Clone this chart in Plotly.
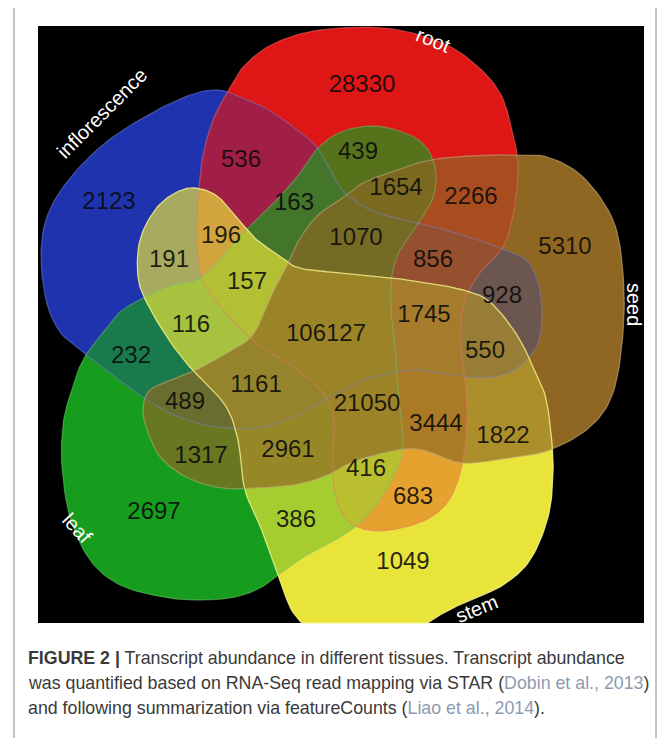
import numpy as np
import plotly.graph_objects as go

# ---------------- data ----------------
set_keys = ["I", "R", "S", "T", "L"]
set_names = ["inflorescence", "root", "seed", "stem", "leaf"]

region_keys = ["I", "R", "S", "T", "L",
               "IR", "RS", "ST", "TL", "IL",
               "RL", "IS", "RT", "SL", "IT",
               "IRL", "RSL", "IRS", "IST", "RST", "RTL", "STL", "ISL", "ITL", "IRT",
               "IRTL", "IRSL", "IRST", "RSTL", "ISTL",
               "IRSTL"]
region_counts = [2123, 28330, 5310, 1049, 2697,
                 536, 2266, 1822, 386, 232,
                 439, 928, 683, 1317, 191,
                 163, 1654, 856, 550, 3444, 416, 2961, 489, 116, 196,
                 157, 1070, 1745, 21050, 1161,
                 106127]

# label positions (layout, not data)
label_x = [109, 362, 565, 403, 154,
           241, 471, 503, 296, 131,
           358, 502, 413, 201, 169,
           294, 396, 433, 485, 436, 366, 288, 185, 191, 221,
           247, 356, 424, 367, 256,
           326]
label_y = [203, 86, 248, 563, 513,
           161, 198, 437, 521, 357,
           153, 297, 498, 457, 261,
           204, 189, 261, 352, 425, 470, 451, 403, 326, 237,
           283, 239, 316, 405, 386,
           335]

# ---------------- styles / geometry ----------------
set_colors = {"I": (31, 52, 175), "R": (222, 22, 22), "S": (143, 103, 36),
              "T": (233, 228, 58), "L": (22, 157, 30)}
ALPHA = 0.68

outline_pts = {
    "R": [(228, 91), (245, 65), (275, 43), (320, 30), (384, 28), (435, 40), (469, 59), (499, 91),
          (512, 130), (518, 166), (514, 210), (503, 247), (482, 270), (468, 293), (461, 320),
          (461, 348), (465, 380), (467, 417), (463, 460), (453, 493), (437, 513), (413, 525),
          (380, 531), (355, 526), (341, 511), (334, 487), (333, 455), (334, 420), (322, 392),
          (292, 366), (255, 342), (225, 312), (204, 283), (198, 255), (197, 222), (199, 188),
          (203, 155), (213, 120)],
    "I": [(83, 352), (60, 332), (46, 300), (41, 253), (48, 214), (70, 178), (105, 143), (148, 115),
          (190, 95), (218, 90), (240, 97), (265, 108), (292, 126), (316, 146), (330, 170),
          (345, 193), (375, 212), (427, 225), (469, 237), (503, 249), (529, 263), (541, 297),
          (540, 336), (530, 356), (512, 371), (485, 378), (455, 375), (420, 370), (385, 374),
          (350, 386), (300, 414), (262, 427), (225, 428), (190, 421), (160, 408), (130, 388),
          (103, 368)],
    "S": [(547, 157), (583, 177), (613, 220), (623, 273), (623, 333), (613, 393), (590, 427),
          (550, 450), (513, 457), (463, 463), (427, 451), (405, 449), (375, 455), (350, 463),
          (330, 474), (299, 484), (256, 488), (222, 488), (188, 478), (162, 459), (149, 435),
          (143, 411), (149, 391), (171, 380), (192, 372), (222, 356), (252, 336), (269, 300),
          (285, 270), (299, 240), (318, 215), (340, 200), (363, 183), (397, 170), (430, 160),
          (470, 156), (510, 155)],
    "T": [(195, 188), (217, 196), (237, 218), (257, 240), (283, 258), (299, 268), (340, 273),
          (384, 277), (427, 283), (463, 290), (490, 302), (517, 335), (533, 367), (545, 395),
          (551, 433), (553, 473), (548, 517), (530, 560), (503, 585), (470, 600), (445, 612),
          (420, 627), (380, 645), (330, 645), (295, 615), (280, 580), (263, 533), (245, 490),
          (238, 440), (225, 405), (195, 373), (171, 343), (148, 305), (138, 277), (140, 240),
          (155, 210), (175, 193)],
    "L": [(143, 298), (170, 286), (197, 280), (217, 263), (243, 233), (270, 207), (297, 177),
          (316, 150), (341, 132), (375, 126), (410, 135), (428, 150), (436, 174), (432, 200),
          (415, 228), (400, 250), (392, 275), (391, 308), (395, 344), (397, 376), (401, 415),
          (403, 443), (399, 465), (384, 494), (363, 520), (340, 537), (310, 553), (285, 570),
          (262, 587), (235, 597), (200, 600), (163, 597), (120, 585), (90, 560), (70, 517),
          (62, 467), (63, 425), (70, 395), (83, 360), (105, 330), (120, 312)],
}
outline_alpha = {"I": 0.45, "R": 0.45, "L": 0.45, "T": 0.85, "S": 0.6}

BOX = (38, 26, 644, 623)  # black panel
PAGE_MARGIN = 8  # browser body margin around the plot div


def smooth_closed(pts, n=10):
    P = np.array(pts, float)
    N = len(P)
    out = []
    for i in range(N):
        p0, p1, p2, p3 = P[(i - 1) % N], P[i], P[(i + 1) % N], P[(i + 2) % N]
        for t in np.linspace(0, 1, n, endpoint=False):
            t2, t3 = t * t, t * t * t
            out.append(0.5 * (2 * p1 + (-p0 + p2) * t + (2 * p0 - 5 * p1 + 4 * p2 - p3) * t2
                              + (-p0 + 3 * p1 - 3 * p2 + p3) * t3))
    out.append(out[0])
    A = np.array(out)
    A[:, 0] = np.clip(A[:, 0], BOX[0], BOX[2])
    A[:, 1] = np.clip(A[:, 1], BOX[1], BOX[3])
    return A


curves = {k: smooth_closed(outline_pts[k]) for k in set_keys}


def rgba(c, a):
    return f"rgba({c[0]},{c[1]},{c[2]},{a})"


fig = go.Figure()

# pass A: opaque underlay, lowest layer ends on top
for k in ["S", "T", "L", "R", "I"]:
    C = curves[k]
    fig.add_trace(go.Scatter(x=C[:, 0], y=C[:, 1], mode="lines", fill="toself",
                             fillcolor=rgba(set_colors[k], 1), line=dict(width=0),
                             hoverinfo="skip", showlegend=False))
# pass B: translucent layers
for k in ["I", "R", "L", "T", "S"]:
    C = curves[k]
    fig.add_trace(go.Scatter(x=C[:, 0], y=C[:, 1], mode="lines", fill="toself",
                             fillcolor=rgba(set_colors[k], ALPHA), line=dict(width=0),
                             hoverinfo="skip", showlegend=False))
# outlines
for k in ["I", "R", "L", "T", "S"]:
    C = curves[k]
    c = set_colors[k]
    lc = tuple(min(255, int(v * 0.6 + 255 * 0.4)) for v in c)
    fig.add_trace(go.Scatter(x=C[:, 0], y=C[:, 1], mode="lines",
                             line=dict(width=1.3, color=rgba(lc, outline_alpha[k])),
                             hoverinfo="skip", showlegend=False))

fig.add_trace(go.Scatter(x=label_x, y=label_y, mode="text",
                         text=[str(v) for v in region_counts], textposition="middle center",
                         textfont=dict(family="Liberation Sans, Arial, sans-serif", size=24,
                                       color="rgba(10,10,10,0.88)"),
                         hoverinfo="skip", showlegend=False))

set_label_pos = {"I": (102, 113, -45), "R": (433, 40, 22), "S": (634, 304, 90),
                 "T": (476, 609, -22), "L": (77, 528, 47)}
for k, name in zip(set_keys, set_names):
    x, y, ang = set_label_pos[k]
    fig.add_annotation(x=x, y=y, text=name, showarrow=False, textangle=ang,
                       font=dict(family="Liberation Sans, Arial, sans-serif", size=20, color="white"),
                       xanchor="center", yanchor="middle")

cap_font = dict(family="Liberation Sans, Arial, sans-serif", size=17.8, color="#3a3a3a")
cite = "color:#8d9bb0"
captions = [
    "<b>FIGURE 2 |</b> Transcript abundance in different tissues. Transcript abundance",
    f"was quantified based on RNA-Seq read mapping via STAR (<span style='{cite}'>Dobin et al., 2013</span>)",
    f"and following summarization via featureCounts (<span style='{cite}'>Liao et al., 2014</span>).",
]
for i, t in enumerate(captions):
    fig.add_annotation(x=26, y=658 + 25 * i, text=t, showarrow=False, xanchor="left",
                       yanchor="middle", font=cap_font)

fig.add_shape(type="rect", x0=BOX[0], y0=BOX[1], x1=BOX[2], y1=BOX[3], fillcolor="black",
              line=dict(width=0), layer="below")
fig.add_shape(type="rect", x0=14, y0=7, x1=656, y1=760, fillcolor="rgba(0,0,0,0)",
              line=dict(width=1, color="#8a8a8a"), layer="below")

W, H = 669, 738
fig.update_layout(width=W - PAGE_MARGIN, height=H - PAGE_MARGIN, margin=dict(l=0, r=0, t=0, b=0),
                  paper_bgcolor="white", plot_bgcolor="white",
                  xaxis=dict(range=[PAGE_MARGIN, W], visible=False, fixedrange=True),
                  yaxis=dict(range=[H, PAGE_MARGIN], visible=False, fixedrange=True),
                  showlegend=False)
fig.write_html("out.html")
